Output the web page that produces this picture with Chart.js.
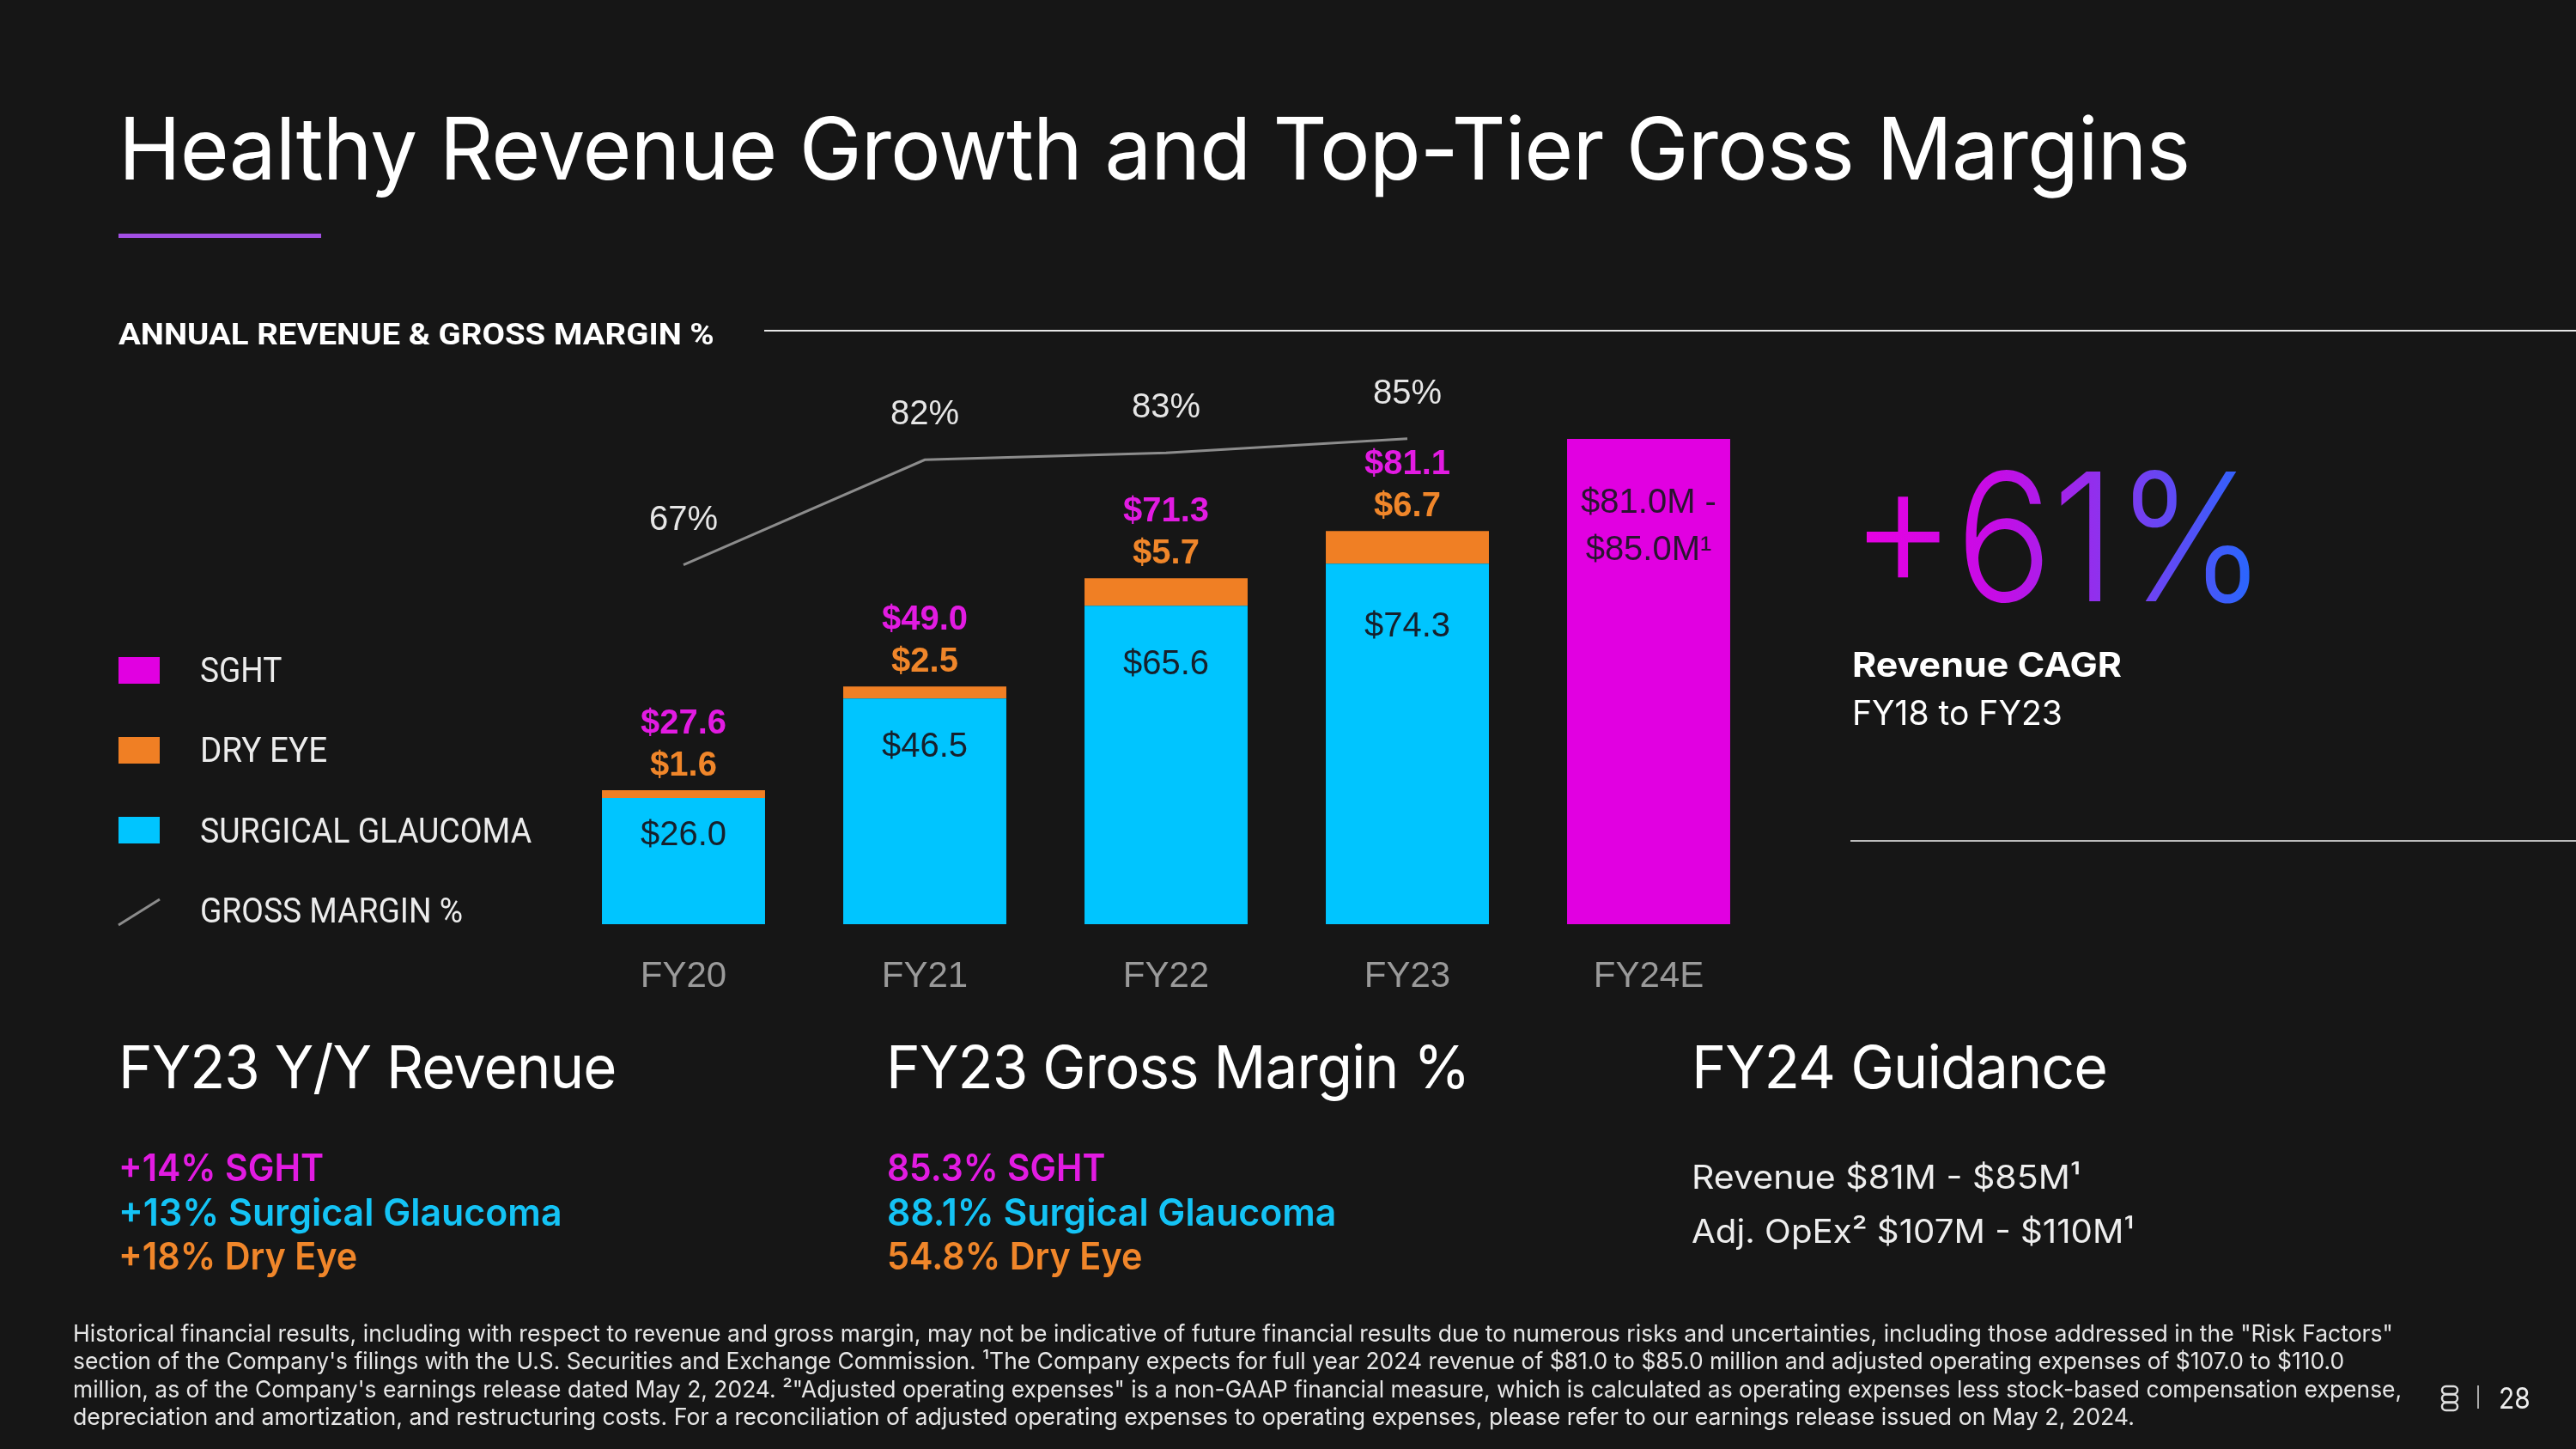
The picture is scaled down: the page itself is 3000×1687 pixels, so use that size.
<!DOCTYPE html>
<html>
<head>
<meta charset="utf-8">
<title>Healthy Revenue Growth and Top-Tier Gross Margins</title>
<script src="https://cdn.jsdelivr.net/npm/chart.js@4.4.1/dist/chart.umd.min.js"></script>
<style>
  html, body { margin: 0; padding: 0; background: #161616; }
  #slide { position: relative; width: 3000px; height: 1687px; overflow: hidden; background: #161616; color: #fff; font-family: Inter, "Open Sans", sans-serif; }
  .t { position: absolute; white-space: nowrap; line-height: 1; transform-origin: 0 0; }
  .rule { position: absolute; }
  .sq { position: absolute; left: 138px; width: 48px; height: 31px; }
  .leg { font-family: Roboto, Inter, sans-serif; font-size: 41px; color: #ececec; left: 233px; }
  .head { font-size: 69px; top: 1208px; letter-spacing: -1px; }
  .item { font-size: 44px; font-weight: 600; }
  .guid { font-size: 38px; color: #eeeeee; left: 1970px; }
  .foot { font-size: 27.5px; color: #e6e6e6; left: 85px; }
  #chartBox { position: absolute; left: 600px; top: 380px; width: 1500px; height: 820px; }
  #big { background: linear-gradient(90deg, #ea00e2 0%, #c60ce6 35%, #8a34ee 62%, #1e6cff 100%); -webkit-background-clip: text; background-clip: text; color: transparent; }
</style>
</head>
<body>
<div id="slide">
  <div class="t" data-w="2412" style="left:138px; top:123px; font-size:100px; letter-spacing:-1px;">Healthy Revenue Growth and Top-Tier Gross Margins</div>
  <div class="rule" style="left:138px; top:272px; width:236px; height:5px; background:#a24fe3;"></div>

  <div class="t" data-w="694" style="left:138px; top:372px; font-family:Roboto, Inter, sans-serif; font-weight:700; font-size:35px;">ANNUAL REVENUE &amp; GROSS MARGIN %</div>
  <div class="rule" style="left:890px; top:384px; width:2110px; height:2px; background:#e6e6e6;"></div>

  <!-- legend -->
  <div class="sq" style="top:765px; background:#e100e1;"></div>
  <div class="sq" style="top:858px; background:#f07f24;"></div>
  <div class="sq" style="top:951px; background:#00c5ff;"></div>
  <svg style="position:absolute; left:136px; top:1045px;" width="52" height="34"><line x1="2" y1="32" x2="50" y2="2" stroke="#8c8c8c" stroke-width="3"/></svg>
  <div class="t leg" data-w="95" style="top:760px;">SGHT</div>
  <div class="t leg" data-w="148" style="top:853px;">DRY EYE</div>
  <div class="t leg" data-w="386" style="top:947px;">SURGICAL GLAUCOMA</div>
  <div class="t leg" data-w="306" style="top:1040px;">GROSS MARGIN %</div>

  <div id="chartBox"><canvas id="revChart" width="1500" height="820"></canvas></div>

  <!-- CAGR callout -->
  <div class="t" id="big" data-w="485" style="left:2155px; top:520px; font-size:208px; font-weight:300;">+61%</div>
  <div class="t" data-w="314" style="left:2157px; top:754px; font-size:40px; font-weight:700;">Revenue CAGR</div>
  <div class="t" data-w="245" style="left:2157px; top:810px; font-size:40px;">FY18 to FY23</div>
  <div class="rule" style="left:2155px; top:978px; width:845px; height:2px; background:#bdbdbd;"></div>

  <!-- bottom blocks -->
  <div class="t head" data-w="579" style="left:138px;">FY23 Y/Y Revenue</div>
  <div class="t item" data-w="239" style="left:138px; top:1337px; color:#e21be2;">+14% SGHT</div>
  <div class="t item" data-w="517" style="left:138px; top:1389px; color:#14c3f5;">+13% Surgical Glaucoma</div>
  <div class="t item" data-w="278" style="left:138px; top:1440px; color:#f0862a;">+18% Dry Eye</div>

  <div class="t head" data-w="679" style="left:1032px;">FY23 Gross Margin %</div>
  <div class="t item" data-w="254" style="left:1033px; top:1337px; color:#e21be2;">85.3% SGHT</div>
  <div class="t item" data-w="523" style="left:1033px; top:1389px; color:#14c3f5;">88.1% Surgical Glaucoma</div>
  <div class="t item" data-w="297" style="left:1033px; top:1440px; color:#f0862a;">54.8% Dry Eye</div>

  <div class="t head" data-w="484" style="left:1970px;">FY24 Guidance</div>
  <div class="t guid" data-w="453" style="top:1351px;">Revenue $81M - $85M¹</div>
  <div class="t guid" data-w="516" style="top:1414px;">Adj. OpEx² $107M - $110M¹</div>

  <!-- footnote -->
  <div class="t foot" data-w="2702" style="top:1539px;">Historical financial results, including with respect to revenue and gross margin, may not be indicative of future financial results due to numerous risks and uncertainties, including those addressed in the "Risk Factors"</div>
  <div class="t foot" data-w="2645" style="top:1571px;">section of the Company's filings with the U.S. Securities and Exchange Commission. ¹The Company expects for full year 2024 revenue of $81.0 to $85.0 million and adjusted operating expenses of $107.0 to $110.0</div>
  <div class="t foot" data-w="2712" style="top:1604px;">million, as of the Company's earnings release dated May 2, 2024. ²"Adjusted operating expenses" is a non-GAAP financial measure, which is calculated as operating expenses less stock-based compensation expense,</div>
  <div class="t foot" data-w="2401" style="top:1636px;">depreciation and amortization, and restructuring costs. For a reconciliation of adjusted operating expenses to operating expenses, please refer to our earnings release issued on May 2, 2024.</div>

  <svg style="position:absolute; left:2842px; top:1612px;" width="22" height="32">
    <rect x="2" y="2" width="18" height="9" rx="4.5" fill="none" stroke="#dddddd" stroke-width="2.5"/>
    <rect x="2" y="11.5" width="18" height="9" rx="4.5" fill="none" stroke="#dddddd" stroke-width="2.5"/>
    <rect x="2" y="21" width="18" height="9" rx="4.5" fill="none" stroke="#dddddd" stroke-width="2.5"/>
  </svg>
  <div class="rule" style="left:2885px; top:1613px; width:2px; height:27px; background:#aaaaaa;"></div>
  <div class="t" data-w="37" style="left:2910px; top:1611px; font-size:34px; color:#eeeeee;">28</div>
</div>

<script>
// chart data, $M
const categories = ['FY20', 'FY21', 'FY22', 'FY23', 'FY24E'];
const surgicalGlaucoma = [26.0, 46.5, 65.6, 74.3, null];
const dryEye = [1.6, 2.5, 5.7, 6.7, null];
const sghtTotal = [27.6, 49.0, 71.3, 81.1, null];
const sghtGuidance = [null, null, null, null, 100]; // FY24E bar height as drawn on the slide
const guidanceLabel = ['$81.0M -', '$85.0M¹'];
const grossMargin = [67, 82, 83, 85, null];

const MAGENTA = '#e100e1';
const ORANGE = '#f07f24';
const CYAN = '#00c5ff';
const LABEL_FONT = '"Liberation Sans", Arial, sans-serif';

const barLabels = {
  id: 'barLabels',
  afterDatasetsDraw(chart) {
    const ctx = chart.ctx;
    const line = chart.getDatasetMeta(0);
    const sg = chart.getDatasetMeta(1);
    const de = chart.getDatasetMeta(2);
    const gd = chart.getDatasetMeta(3);
    ctx.save();
    ctx.textAlign = 'center';
    ctx.textBaseline = 'middle';
    categories.forEach((c, i) => {
      if (surgicalGlaucoma[i] != null) {
        const sgBar = sg.data[i];
        const deBar = de.data[i];
        const h = sgBar.base - sgBar.y;
        ctx.font = '40px ' + LABEL_FONT;
        ctx.fillStyle = '#16202c';
        ctx.fillText('$' + surgicalGlaucoma[i].toFixed(1), sgBar.x, sgBar.y + 28 + 0.11 * h);
        ctx.font = 'bold 40px ' + LABEL_FONT;
        ctx.fillStyle = '#f0862a';
        ctx.fillText('$' + dryEye[i].toFixed(1), deBar.x, deBar.y - 28);
        ctx.fillStyle = '#e21be2';
        ctx.fillText('$' + sghtTotal[i].toFixed(1), deBar.x, deBar.y - 77);
      }
      if (sghtGuidance[i] != null) {
        const gBar = gd.data[i];
        ctx.font = '40px ' + LABEL_FONT;
        ctx.fillStyle = '#2a1430';
        ctx.fillText(guidanceLabel[0], gBar.x, gBar.y + 75);
        ctx.fillText(guidanceLabel[1], gBar.x, gBar.y + 130);
      }
      if (grossMargin[i] != null) {
        const pt = line.data[i];
        ctx.font = '40px ' + LABEL_FONT;
        ctx.fillStyle = '#e6e6e6';
        ctx.fillText(grossMargin[i] + '%', pt.x, pt.y - 52);
      }
    });
    ctx.restore();
  }
};

new Chart(document.getElementById('revChart').getContext('2d'), {
  data: {
    labels: categories,
    datasets: [
      {
        type: 'line',
        label: 'Gross Margin %',
        data: grossMargin,
        yAxisID: 'yMargin',
        borderColor: '#8c8c8c',
        borderWidth: 3,
        pointRadius: 0,
        fill: false,
        tension: 0
      },
      { type: 'bar', label: 'Surgical Glaucoma', data: surgicalGlaucoma, backgroundColor: CYAN, stack: 'rev' },
      { type: 'bar', label: 'Dry Eye', data: dryEye, backgroundColor: ORANGE, stack: 'rev' },
      { type: 'bar', label: 'SGHT', data: sghtGuidance, backgroundColor: MAGENTA, stack: 'rev' }
    ]
  },
  options: {
    responsive: false,
    animation: false,
    datasets: { bar: { barPercentage: 0.676, categoryPercentage: 1 } },
    layout: { padding: { left: 55.5, right: 39.5, top: 18, bottom: 24 } },
    plugins: {
      legend: { display: false },
      tooltip: { enabled: false }
    },
    scales: {
      x: {
        stacked: true,
        grid: { display: false, drawTicks: false },
        border: { display: false },
        ticks: { color: '#9a9a9a', padding: 36, font: { family: '"Liberation Sans Narrow", "Liberation Sans", sans-serif', size: 42 } },
        afterFit(scale) { scale.height = 100; }
      },
      y: { stacked: true, min: 0, max: 120, display: false },
      yMargin: { position: 'right', min: 15.7, max: 98.84, display: false }
    }
  },
  plugins: [barLabels]
});

// squeeze each text run to the width it takes on the slide
function fitText() {
  document.querySelectorAll('[data-w]').forEach(el => {
    const w = el.offsetWidth;
    if (w > 0) el.style.transform = 'scaleX(' + (parseFloat(el.dataset.w) / w) + ')';
  });
}
fitText();
if (document.fonts) document.fonts.ready.then(fitText);
</script>
</body>
</html>
